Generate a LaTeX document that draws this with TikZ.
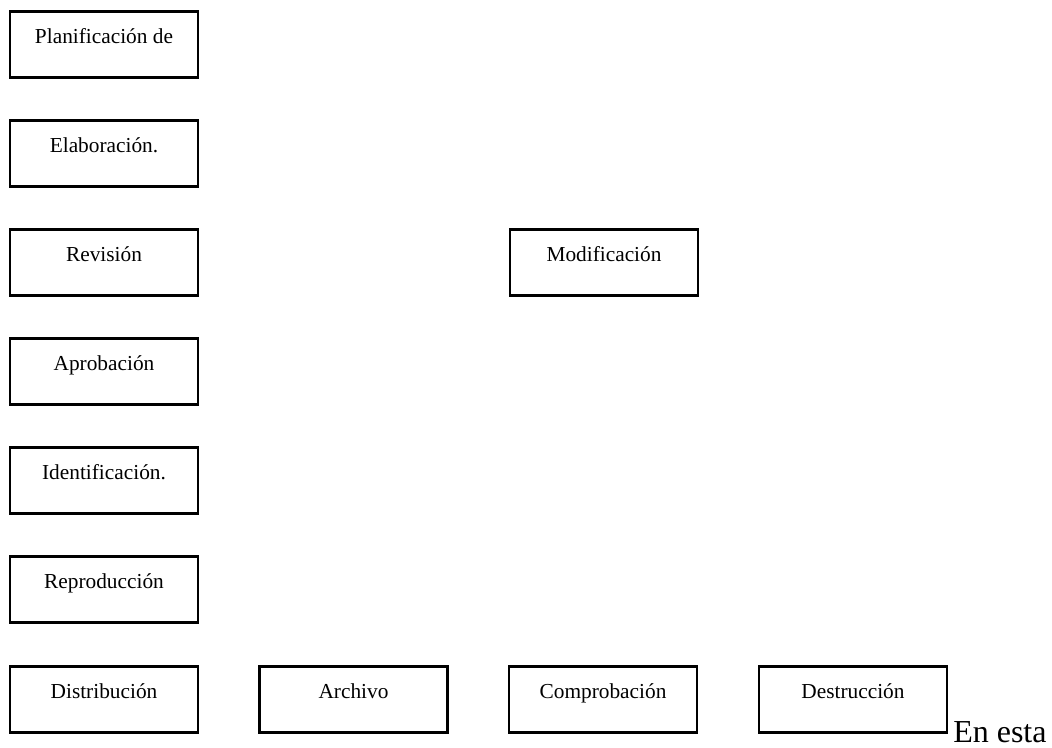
\documentclass[tikz,border=0pt]{standalone}
\usepackage{fontspec}
\setmainfont{Liberation Serif}
\begin{document}
\begin{tikzpicture}[x=0.75pt,y=-0.75pt,
  stagebox/.style={draw=black, line width=2.1pt, fill=white, inner sep=0pt,
    minimum width=141pt, text height=24pt, text depth=25.5pt,
    anchor=north, font=\fontsize{16}{19}\selectfont},
  runtext/.style={inner sep=0pt, anchor=base west, text depth=0pt,
    font=\fontsize{24}{28}\selectfont}]
  \useasboundingbox (0,0) rectangle (1052,747);
  % left column of stages
  \node[stagebox] (plan) at (104,10)  {Planificación de};
  \node[stagebox] (elab) at (104,119) {Elaboración.};
  \node[stagebox] (rev)  at (104,228) {Revisión};
  \node[stagebox] (apr)  at (104,337) {Aprobación};
  \node[stagebox] (iden) at (104,446) {Identificación.};
  \node[stagebox] (repr) at (104,555) {Reproducción};
  \node[stagebox] (dist) at (104,665) {Distribución};
  % side box
  \node[stagebox] (mod)  at (604,228) {Modificación};
  % bottom row
  \node[stagebox] (arch) at (353.5,665) {Archivo};
  \node[stagebox] (comp) at (603,665)   {Comprobación};
  \node[stagebox] (dest) at (853,665)   {Destrucción};
  % trailing text
  \node[runtext] (tail) at (953,742) {En esta};
\end{tikzpicture}
\end{document}
